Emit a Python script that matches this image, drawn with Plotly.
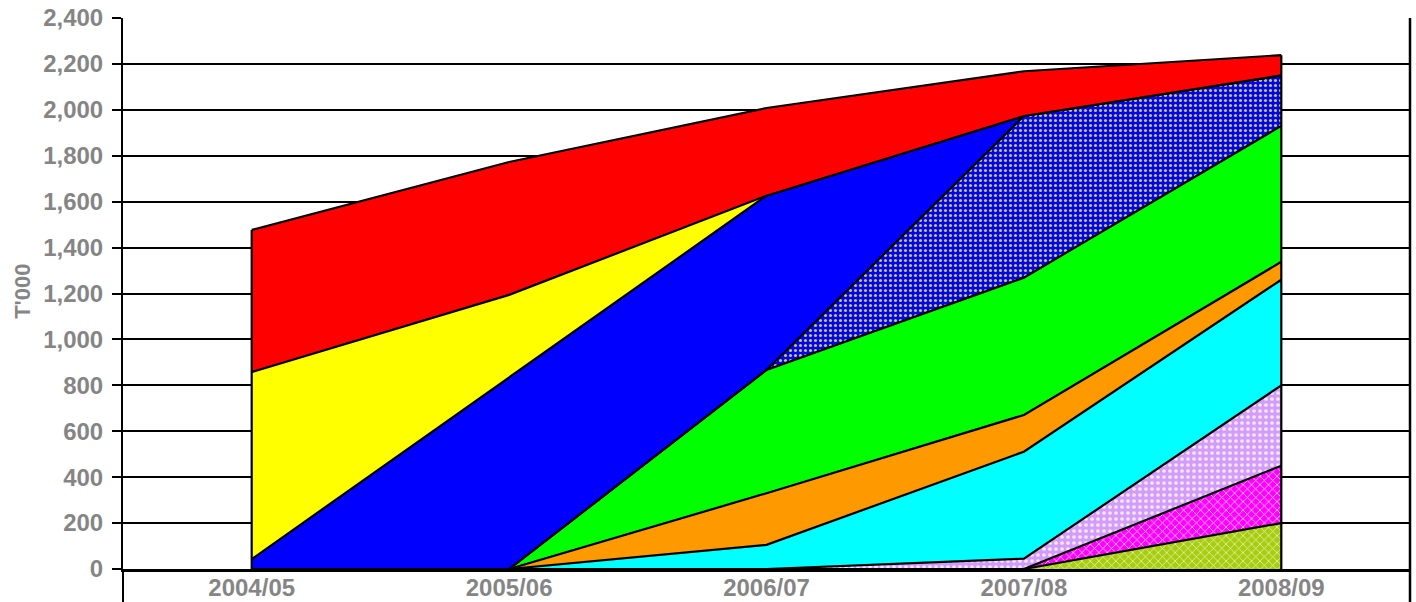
import plotly.graph_objects as go

categories = ["2004/05", "2005/06", "2006/07", "2007/08", "2008/09"]

# stacked series, bottom to top (thousands)
olive = [0, 0, 0, 0, 200]
magenta = [0, 0, 0, 0, 250]
lavender = [0, 0, 0, 45, 350]
cyan = [0, 0, 105, 466, 460]
orange = [0, 0, 225, 160, 78]
green = [0, 0, 537, 598, 592]
blue_dotted = [0, 0, 0, 704, 220]
blue = [43, 835, 759, 0, 0]
yellow = [815, 359, 0, 0, 0]
red = [619, 579, 382, 195, 88]

y_ticks = list(range(0, 2401, 200))

series = [
    ("olive", olive, dict(fillcolor="#A8CC10", pattern=dict(shape="x", bgcolor="#A8CC10", fgcolor="#E4F4B0", size=6, solidity=0.25, fillmode="replace"))),
    ("magenta", magenta, dict(fillcolor="#FF00FF", pattern=dict(shape="x", bgcolor="#FF00FF", fgcolor="#FFD0FF", size=6, solidity=0.25, fillmode="replace"))),
    ("lavender", lavender, dict(fillcolor="#D49CFA", pattern=dict(shape=".", bgcolor="#D49CFA", fgcolor="#F4E8FF", size=6, solidity=0.3, fillmode="replace"))),
    ("cyan", cyan, dict(fillcolor="#00FFFF")),
    ("orange", orange, dict(fillcolor="#FF9900")),
    ("green", green, dict(fillcolor="#00FF00")),
    ("blue dotted", blue_dotted, dict(fillcolor="#0000FF", pattern=dict(shape=".", bgcolor="#0000FF", fgcolor="#C8C850", size=5, solidity=0.3, fillmode="replace"))),
    ("blue", blue, dict(fillcolor="#0000FF")),
    ("yellow", yellow, dict(fillcolor="#FFFF00")),
    ("red", red, dict(fillcolor="#FF0000")),
]

fig = go.Figure()
for name, vals, st in series:
    kw = dict(
        x=categories, y=vals, name=name, mode="lines",
        stackgroup="one", line=dict(color="black", width=2.2),
        fillcolor=st["fillcolor"], hoverinfo="skip",
    )
    if "pattern" in st:
        kw["fillpattern"] = st["pattern"]
    fig.add_trace(go.Scatter(**kw))

# vertical closing edges at first and last category
totals = [sum(s[1][i] for s in series) for i in range(len(categories))]
fig.add_trace(go.Scatter(
    x=[categories[0], categories[0], None, categories[-1], categories[-1]],
    y=[0, totals[0], None, 0, totals[-1]],
    mode="lines", line=dict(color="black", width=2.2), hoverinfo="skip", showlegend=False,
))

font_family = "Liberation Sans, Arial, sans-serif"
gray = "#858585"

fig.update_layout(
    width=1416, height=602,
    margin=dict(l=123, r=6, t=18, b=33),
    paper_bgcolor="white", plot_bgcolor="white",
    showlegend=False,
    font=dict(family=font_family, color=gray),
    xaxis=dict(
        type="category", range=[-0.5, 4.5], showgrid=False, zeroline=False,
        showline=True, linecolor="black", linewidth=2.5, ticks="",
        tickfont=dict(family=font_family, size=24, color=gray, weight="bold"),
        ticklabelstandoff=-5, automargin=False,
    ),
    yaxis=dict(
        range=[0, 2400], tickvals=y_ticks, tickformat=",", showgrid=True,
        gridcolor="black", gridwidth=1.5, zeroline=False,
        showline=True, linecolor="black", linewidth=2,
        ticks="outside", ticklen=9, tickcolor="black", tickwidth=1.5,
        tickfont=dict(family=font_family, size=24, color=gray, weight="bold"),
        ticklabelstandoff=4, automargin=False,
    ),
    shapes=[
        dict(type="line", xref="paper", yref="paper", x0=0, x1=0, y0=-0.07, y1=0,
             line=dict(color="black", width=2)),
        dict(type="line", xref="paper", yref="paper", x0=1, x1=1, y0=-0.07, y1=1,
             line=dict(color="black", width=2.5)),
    ],
    annotations=[
        dict(text="T'000", xref="paper", yref="paper", x=0, y=0.503, xshift=-100,
             xanchor="center", yanchor="middle", textangle=-90, showarrow=False,
             font=dict(family=font_family, size=22, color=gray, weight="bold")),
    ],
)

fig.write_html("out.html")
